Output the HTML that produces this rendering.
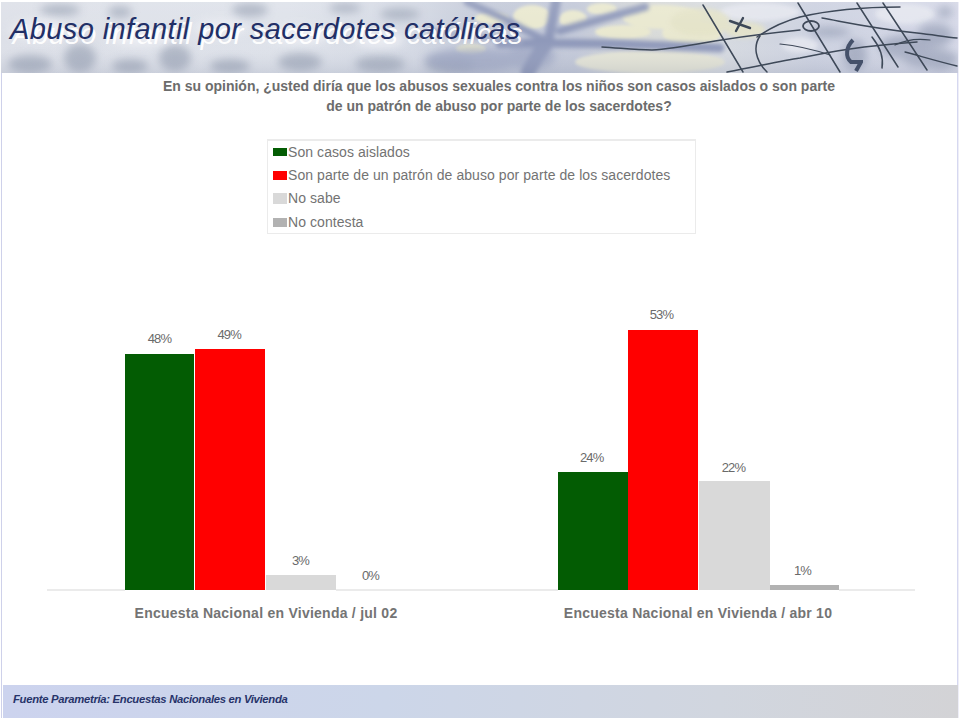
<!DOCTYPE html>
<html><head><meta charset="utf-8">
<style>
*{margin:0;padding:0;box-sizing:border-box}
html,body{width:960px;height:720px;background:#fff;overflow:hidden}
body{position:relative;font-family:"Liberation Sans",sans-serif}
.abs{position:absolute}
#frameL{left:1px;top:2px;width:1px;height:716px;background:#ced1ea}
#frameR{left:957px;top:2px;width:2px;height:716px;background:linear-gradient(90deg,#d6d8f0 50%,#eeeef8 50%)}
#title{left:10px;top:13px;font-size:29px;letter-spacing:0.4px;font-style:italic;color:#222f66;white-space:nowrap;
 text-shadow:2.5px 5px 0.4px rgba(255,255,255,.95)}
.q{left:0;width:998px;text-align:center;font-size:14px;line-height:20px;font-weight:bold;color:#6c6c6c;white-space:nowrap}
#legend{left:267px;top:139px;width:429px;height:95px;border:1px solid #ebebeb;border-top-width:2px}
.li{position:absolute;left:20px;font-size:14px;letter-spacing:0.07px;color:#737373;white-space:nowrap}
.sw{position:absolute;left:5px;width:14px;height:8px}
.bar{position:absolute}
.g{background:#035c03}
.r{background:#ff0000}
.lg{background:#d9d9d9}
.dg{background:#b2b2b2}
.v{position:absolute;font-size:13px;letter-spacing:-0.8px;color:#6a6a6a;width:70px;text-align:center}
.ax{top:589px;height:2px;background:#ebebeb}
.xl{position:absolute;top:605px;letter-spacing:0.25px;width:434px;text-align:center;font-size:14px;font-weight:bold;color:#747474;white-space:nowrap}
#footer{left:3px;top:685px;width:955px;height:33px;background:linear-gradient(90deg,#ccd3ee 0%,#ccd6e9 40%,#d1d6df 75%,#d3d3d6 100%)}
#ftext{left:13px;top:693px;font-size:11.3px;font-weight:bold;letter-spacing:-0.31px;font-style:italic;color:#27336a;white-space:nowrap}
</style></head><body>
<div id="frameL" class="abs"></div>
<div id="frameR" class="abs"></div>
<svg id="banner" class="abs" width="957" height="71" viewBox="1 2 957 71" style="left:1px;top:2px">
<defs>
<linearGradient id="bg" x1="0" x2="1" y1="0" y2="0">
<stop offset="0" stop-color="#dde0e8"/>
<stop offset="0.3" stop-color="#dee2ea"/>
<stop offset="0.43" stop-color="#d4d9e4"/>
<stop offset="0.5" stop-color="#c4cad9"/>
<stop offset="0.6" stop-color="#c2c8d8"/>
<stop offset="0.68" stop-color="#d8dad8"/>
<stop offset="0.75" stop-color="#d6dae0"/>
<stop offset="0.85" stop-color="#ccd1e0"/>
<stop offset="1" stop-color="#d6d9e8"/>
</linearGradient>
<linearGradient id="vg" x1="0" x2="0" y1="0" y2="1">
<stop offset="0" stop-color="#ffffff" stop-opacity="0.1"/>
<stop offset="0.55" stop-color="#ffffff" stop-opacity="0"/>
<stop offset="1" stop-color="#7d86a0" stop-opacity="0.18"/>
</linearGradient>
<filter id="b2" x="-20%" y="-50%" width="140%" height="200%"><feGaussianBlur stdDeviation="2"/></filter>
<filter id="b4" x="-20%" y="-50%" width="140%" height="200%"><feGaussianBlur stdDeviation="4"/></filter>
<filter id="b1"><feGaussianBlur stdDeviation="0.5"/></filter>
<filter id="b15" x="-20%" y="-50%" width="140%" height="200%"><feGaussianBlur stdDeviation="1.5"/></filter>
</defs>
<rect x="1" y="2" width="957" height="71" fill="url(#bg)"/>
<g filter="url(#b4)" fill="#a2aabb" opacity="0.8">
<ellipse cx="30" cy="64" rx="22" ry="9"/>
<ellipse cx="80" cy="58" rx="16" ry="14"/>
<ellipse cx="130" cy="66" rx="18" ry="7"/>
<ellipse cx="175" cy="58" rx="16" ry="13"/>
<ellipse cx="230" cy="66" rx="20" ry="7"/>
<ellipse cx="300" cy="62" rx="22" ry="9"/>
<ellipse cx="60" cy="10" rx="20" ry="6"/>
<ellipse cx="120" cy="12" rx="12" ry="6"/>
<ellipse cx="250" cy="10" rx="18" ry="7"/>
<ellipse cx="345" cy="8" rx="16" ry="5"/>
<ellipse cx="400" cy="14" rx="20" ry="6"/>
<ellipse cx="380" cy="64" rx="25" ry="8"/>
<ellipse cx="450" cy="64" rx="25" ry="8"/>
</g>
<g filter="url(#b4)" fill="#f2f3f7" opacity="0.7">
<ellipse cx="40" cy="30" rx="30" ry="10"/>
<ellipse cx="140" cy="38" rx="30" ry="8"/>
<ellipse cx="220" cy="28" rx="25" ry="8"/>
<ellipse cx="300" cy="35" rx="30" ry="9"/>
<ellipse cx="380" cy="40" rx="25" ry="8"/>
</g>
<g filter="url(#b15)" fill="#e9e8cf">
<ellipse cx="532" cy="17" rx="19" ry="12"/>
<ellipse cx="492" cy="18" rx="17" ry="6"/>
<ellipse cx="471" cy="49" rx="15" ry="5"/>
<ellipse cx="573" cy="19" rx="14" ry="9"/>
<ellipse cx="602" cy="9" rx="15" ry="6"/>
<ellipse cx="623" cy="32" rx="28" ry="7"/>
<ellipse cx="662" cy="17" rx="40" ry="12"/>
<ellipse cx="692" cy="33" rx="30" ry="12"/>
<ellipse cx="650" cy="62" rx="75" ry="11" fill="#e4e4d6"/>
</g>
<g filter="url(#b4)" fill="#9ba4c2" opacity="0.75">
<ellipse cx="475" cy="60" rx="50" ry="12"/>
<ellipse cx="530" cy="56" rx="25" ry="14"/>
</g>
<g filter="url(#b2)" stroke="#8f99ba" fill="none" stroke-linecap="round">
<path d="M500 44 C560 42 620 44 720 48" stroke-width="9"/>
<path d="M528 72 C535 60 540 50 548 42" stroke-width="14"/>
<path d="M548 42 C551 30 553 15 556 2" stroke-width="10"/>
<path d="M467 2 C480 8 495 14 507 20 C520 28 532 34 545 40" stroke-width="7"/>
<path d="M560 31 C590 22 620 14 645 7" stroke-width="8"/>
<path d="M430 30 C460 35 490 38 520 41" stroke-width="5" stroke="#a3abc6"/>
</g>
<g filter="url(#b2)" fill="#e6e8f0" opacity="0.85">
<ellipse cx="760" cy="12" rx="40" ry="9"/>
<ellipse cx="905" cy="14" rx="30" ry="10"/>
<ellipse cx="800" cy="45" rx="18" ry="8"/>
</g>
<g filter="url(#b2)" fill="#e4e3c8" opacity="0.9">
<ellipse cx="700" cy="22" rx="30" ry="14"/>
<ellipse cx="745" cy="30" rx="20" ry="8"/>
</g>
<g filter="url(#b4)" fill="#9ea6bc" opacity="0.8">
<ellipse cx="905" cy="47" rx="26" ry="12"/>
<ellipse cx="930" cy="58" rx="28" ry="10"/>
<ellipse cx="935" cy="35" rx="18" ry="12"/>
<ellipse cx="940" cy="62" rx="16" ry="8"/>
<ellipse cx="855" cy="55" rx="12" ry="15"/>
<ellipse cx="830" cy="32" rx="20" ry="5"/>
<ellipse cx="945" cy="12" rx="8" ry="6"/>
</g>
<rect x="1" y="2" width="957" height="71" fill="url(#vg)"/>
<g stroke="#3e4858" fill="none" stroke-width="1.5" filter="url(#b1)" stroke-linecap="round">
<path d="M703 5 L743 72"/>
<path d="M798 3 L840 72"/>
<path d="M857 3 L898 67"/>
<path d="M883 3 L927 70"/>
<path d="M602 47 C620 48 635 50 652 50 C672 49 692 45 715 41 C740 37 770 33 800 30"/>
<path d="M757 37 C770 28 785 21 800 17 C830 10 865 7 900 7"/>
<path d="M760 36 C753 46 755 60 767 72"/>
<path d="M727 72 C755 67 780 61 800 58 C830 52 860 46 917 42"/>
<path d="M822 18 C845 22 870 28 917 33 C935 35 945 37 957 38"/>
<path d="M872 37 C880 47 884 57 882 68"/>
<path d="M730 21 L750 28 M743 18 L736 31" stroke-width="2.4"/>
<path d="M780 44 C800 46 815 50 830 55" stroke-width="1.2"/>
<path d="M905 52 C920 56 940 62 957 66" stroke-width="1.3"/>
<path d="M895 45 C905 40 915 38 930 40" stroke-width="1.2"/>


</g>
<ellipse cx="811" cy="26" rx="8" ry="5" stroke="#3e4858" stroke-width="1.8" fill="none"/>
<path d="M853 40 C846 47 845 57 851 62 L861 62 L856 71" stroke="#45516a" stroke-width="4" fill="none" filter="url(#b1)"/>
</svg>
<div id="title" class="abs">Abuso infantil por sacerdotes católicas</div>

<div class="abs q" style="top:76px">En su opinión, ¿usted diría que los abusos sexuales contra los niños son casos aislados o son parte</div>
<div class="abs q" style="top:96px">de un patrón de abuso por parte de los sacerdotes?</div>

<div class="abs ax" style="left:47px;width:78px"></div><div class="abs ax" style="left:336px;width:222px"></div><div class="abs ax" style="left:839px;width:76px"></div>
<div id="legend" class="abs">
 <div class="sw g" style="top:7px;height:8px"></div><div class="li" style="top:3px">Son casos aislados</div>
 <div class="sw r" style="top:30px;height:9px"></div><div class="li" style="top:25.5px">Son parte de un patrón de abuso por parte de los sacerdotes</div>
 <div class="sw lg" style="top:52px;height:11px"></div><div class="li" style="top:49px">No sabe</div>
 <div class="sw dg" style="top:77px;height:9px"></div><div class="li" style="top:73px">No contesta</div>
</div>

<div class="bar g" style="left:125px;top:354px;width:69px;height:236px"></div>
<div class="bar r" style="left:195px;top:349px;width:70px;height:241px"></div>
<div class="bar lg" style="left:266px;top:575px;width:70px;height:15px"></div>
<div class="v" style="left:124.5px;top:331px">48%</div>
<div class="v" style="left:194.25px;top:327px">49%</div>
<div class="v" style="left:265.5px;top:553px">3%</div>
<div class="v" style="left:335.5px;top:568px">0%</div>

<div class="bar g" style="left:558px;top:472px;width:70px;height:118px"></div>
<div class="bar r" style="left:628px;top:330px;width:70px;height:260px"></div>
<div class="bar lg" style="left:699px;top:481px;width:71px;height:109px"></div>
<div class="bar dg" style="left:770px;top:585px;width:69px;height:5px"></div>
<div class="v" style="left:556.75px;top:450px">24%</div>
<div class="v" style="left:626.5px;top:307px">53%</div>
<div class="v" style="left:698.5px;top:460px">22%</div>
<div class="v" style="left:767.5px;top:563px">1%</div>

<div class="xl" style="left:49px">Encuesta Nacional en Vivienda / jul 02</div>
<div class="xl" style="left:481px">Encuesta Nacional en Vivienda / abr 10</div>

<div id="footer" class="abs"></div>
<div id="ftext" class="abs">Fuente Parametría: Encuestas Nacionales en Vivienda</div>
</body></html>
